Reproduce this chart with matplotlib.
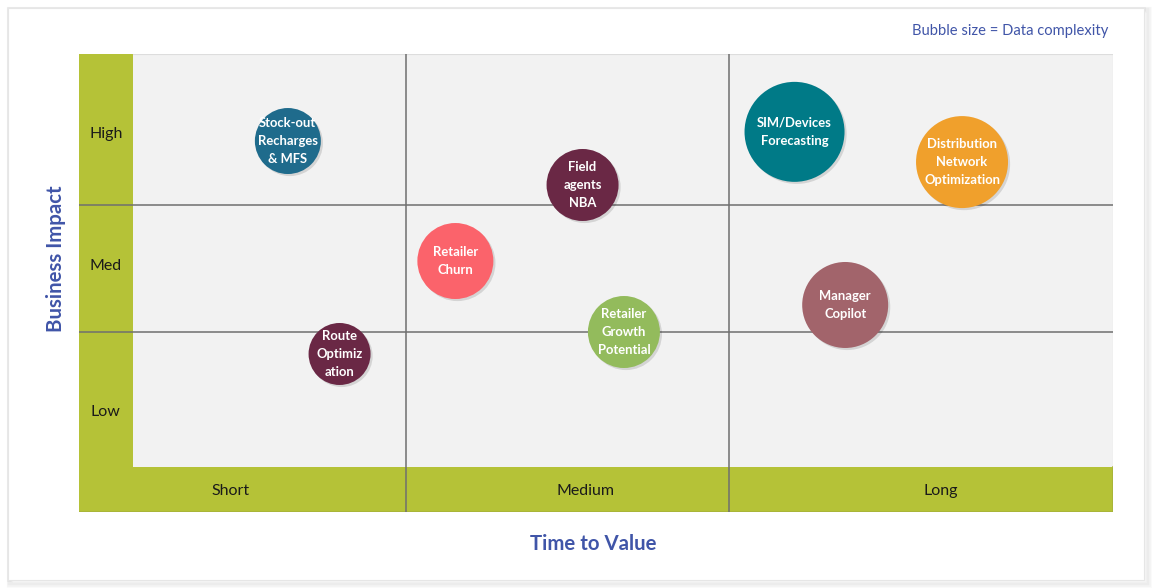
import matplotlib
matplotlib.use("Agg")
import matplotlib.pyplot as plt
from matplotlib.patches import Rectangle
import matplotlib.patheffects as pe

plt.rcParams['font.family'] = ['Lato', 'DejaVu Sans']

# ---- data ----
names = ["Stock-out\nRecharges\n& MFS", "Field\nagents\nNBA", "Retailer\nChurn",
         "Retailer\nGrowth\nPotential", "Route\nOptimiz\nation", "SIM/Devices\nForecasting",
         "Distribution\nNetwork\nOptimization", "Manager\nCopilot"]
time_to_value = [2.02, 4.87, 3.64, 5.27, 2.52, 6.92, 8.54, 7.41]   # 0-10 scale
business_impact = [8.10, 7.14, 5.48, 3.93, 3.45, 8.30, 7.64, 4.52]  # 0-10 scale
complexity = [33, 36, 38, 36, 31, 50, 46, 43]                       # bubble radius (px)
colors = ["#1f6b8c", "#6a2845", "#fb636b", "#93bb5c", "#6a2845", "#007a87", "#f0a02c", "#a2646b"]

x_labels = ["Short", "Medium", "Long"]
x_label_pos = [1.47, 4.90, 8.33]
y_labels = ["High", "Med", "Low"]
y_label_pos = [8.26, 5.37, 2.18]
col_bounds = [3.16, 6.29]
row_bounds = [3.93, 6.70]
strip_x = 0.52
strip_y = 0.98

W, H = 1152, 588
fig = plt.figure(figsize=(W / 100, H / 100), dpi=100)
fig.patch.set_facecolor("white")

# card with shadow
bg = fig.add_axes([0, 0, 1, 1])
bg.set_xlim(0, W); bg.set_ylim(H, 0); bg.axis("off")
for i, a in enumerate([0.035, 0.03, 0.025, 0.02]):
    bg.add_patch(Rectangle((8 + i * 0.5, 8 + i * 0.5), 1137 + i, 573 + i, facecolor="none",
                           edgecolor=(0, 0, 0, a), lw=1.5 + i))
bg.add_patch(Rectangle((8, 8), 1136, 572, facecolor="white", edgecolor="#e6e6e6", lw=0.8))

bg.text(1108, 31, "Bubble size = Data complexity", ha="right", va="center",
        fontsize=10.6, color="#4055a8")

# main matrix
ax = fig.add_axes([79 / W, 1 - 512 / H, (1113 - 79) / W, (512 - 54) / H])
ax.set_xlim(0, 10); ax.set_ylim(0, 10)
ax.set_facecolor("#f2f2f2")
for s in ax.spines.values():
    s.set_visible(False)
ax.set_xticks([]); ax.set_yticks([])

green = "#b5c237"
ax.add_patch(Rectangle((0, 0), strip_x, 10, facecolor=green, edgecolor="none", zorder=1))
ax.add_patch(Rectangle((0, 0), 10, strip_y, facecolor=green, edgecolor="none", zorder=1))
ax.plot([0, 10, 10], [0, 0, strip_y], color="#a7b33a", lw=1.2, zorder=1.5)
ax.plot([10, 10], [strip_y, 10], color="#d9d9d9", lw=0.8, zorder=1.5)
ax.plot([strip_x, 10], [10, 10], color="#dddddd", lw=0.8, zorder=1.5)

for xb in col_bounds:
    ax.axvline(xb, color="#6f6f6f", lw=1.1, zorder=2)
for yb in row_bounds:
    ax.axhline(yb, color="#6f6f6f", lw=1.1, zorder=2)

for lab, xp in zip(x_labels, x_label_pos):
    ax.text(xp, strip_y / 2 - 0.03, lab, ha="center", va="center", fontsize=11.5, color="#1a1a1a", zorder=3)
for lab, yp in zip(y_labels, y_label_pos):
    ax.text(strip_x / 2, yp, lab, ha="center", va="center", fontsize=11.5, color="#1a1a1a", zorder=3)

sizes = [(2 * r * 0.72) ** 2 for r in complexity]
shadow = [pe.SimplePatchShadow(offset=(1.5, -1.5), shadow_rgbFace="#000000", alpha=0.12), pe.Normal()]
sc = ax.scatter(time_to_value, business_impact, s=sizes, c=colors, edgecolors="none", zorder=4)
sc.set_path_effects(shadow)
for n, xv, yv in zip(names, time_to_value, business_impact):
    ax.text(xv, yv, n, ha="center", va="center", fontsize=9.4, fontweight="bold",
            color="white", linespacing=1.6, zorder=5)

fig.text(593 / W, 1 - 544 / H, "Time to Value", ha="center", va="center",
         fontsize=14.7, fontweight="bold", color="#4055a8")
fig.text(56 / W, 1 - 259 / H, "Business Impact", ha="center", va="center", rotation=90,
         fontsize=14.7, fontweight="bold", color="#4055a8")

fig.savefig("out.png", dpi=100, facecolor="white")
